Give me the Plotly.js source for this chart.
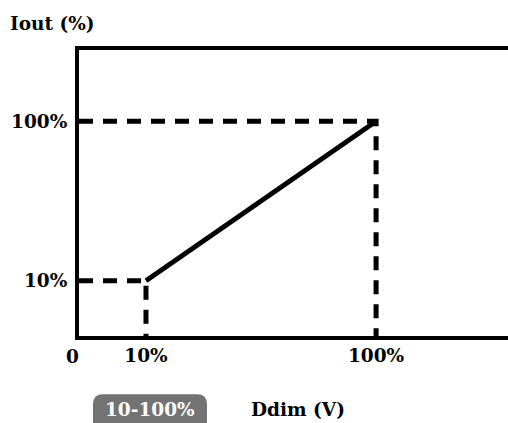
<!DOCTYPE html>
<html><head><meta charset="utf-8">
<script src="https://cdn.plot.ly/plotly-3.0.1.min.js"></script>
<style>html,body{margin:0;padding:0;background:#fff}#c{width:508px;height:423px}</style>
</head><body><div id="c"></div>
<script>
const dimX = [10, 100];          // Ddim (%)
const outY = [10, 100];          // Iout (%)
const xTickVals = [10, 100];
const xTickText = ['10%', '100%'];
const yTickVals = [10, 100];
const yTickText = ['10%', '100%'];
const xRange = [-16.2, 151.6];
const yRange = [-21.2, 140.2];

const FONT = 'DejaVu Serif, Liberation Serif, serif';
const FS = 18.5;
const traces = [];
dimX.forEach((x, i) => {
  traces.push({x: [xRange[0], x, x], y: [outY[i], outY[i], yRange[0]], mode: 'lines',
    line: {color: '#000', width: 5, dash: '14px,10px'}, hoverinfo: 'skip'});
});
traces.push({x: dimX, y: outY, mode: 'lines', line: {color: '#000', width: 5}, hoverinfo: 'skip'});

const L = 79, T = 49.5, W = 429, H = 287;
const px = v => (v - L) / W, py = v => (T + H - v) / H;
const r = 10, bx0 = 93, bx1 = 207, by0 = 395, by1 = 430;
const pts = [[bx0 + r, by0, 'M'], [bx1 - r, by0, 'L'], [bx1, by0, 'Q'], [bx1, by0 + r, ''], [bx1, by1, 'L'],
  [bx0, by1, 'L'], [bx0, by0 + r, 'L'], [bx0, by0, 'Q'], [bx0 + r, by0, '']];
const badge = pts.map(p => `${p[2]} ${px(p[0])},${py(p[1])}`).join(' ') + ' Z';

function ann(text, x, y, color) {
  return {text, xref: 'paper', yref: 'paper', x: px(x), y: py(y), xanchor: 'center', yanchor: 'middle',
    showarrow: false, font: {family: FONT, size: FS, weight: 'bold', color: color || '#000'}};
}

const layout = {
  width: 508, height: 423,
  margin: {l: L, r: 0, t: T, b: 423 - T - H},
  paper_bgcolor: '#fff', plot_bgcolor: '#fff',
  showlegend: false,
  font: {family: FONT, size: FS, color: '#000', weight: 'bold'},
  xaxis: {range: xRange, tickvals: xTickVals, ticktext: xTickText, showgrid: false, zeroline: false,
    showline: true, mirror: true, linewidth: 4, linecolor: '#000', ticks: '',
    tickfont: {family: FONT, size: FS, weight: 'bold'}, fixedrange: true},
  yaxis: {range: yRange, tickvals: yTickVals, ticktext: yTickText, showgrid: false, zeroline: false,
    showline: true, mirror: true, linewidth: 4, linecolor: '#000', ticks: '', ticklabelstandoff: 4,
    tickfont: {family: FONT, size: FS, weight: 'bold'}, fixedrange: true},
  shapes: [{type: 'path', xref: 'paper', yref: 'paper', path: badge, fillcolor: '#737373', line: {width: 0}, layer: 'below'}],
  annotations: [
    ann('Iout (%)', 52, 23),
    ann('0', 72, 357),
    ann('Ddim (V)', 298, 410),
    ann('10-100%', 150, 410, '#fff')
  ]
};
Plotly.newPlot('c', traces, layout, {staticPlot: true, displayModeBar: false});
</script></body></html>
